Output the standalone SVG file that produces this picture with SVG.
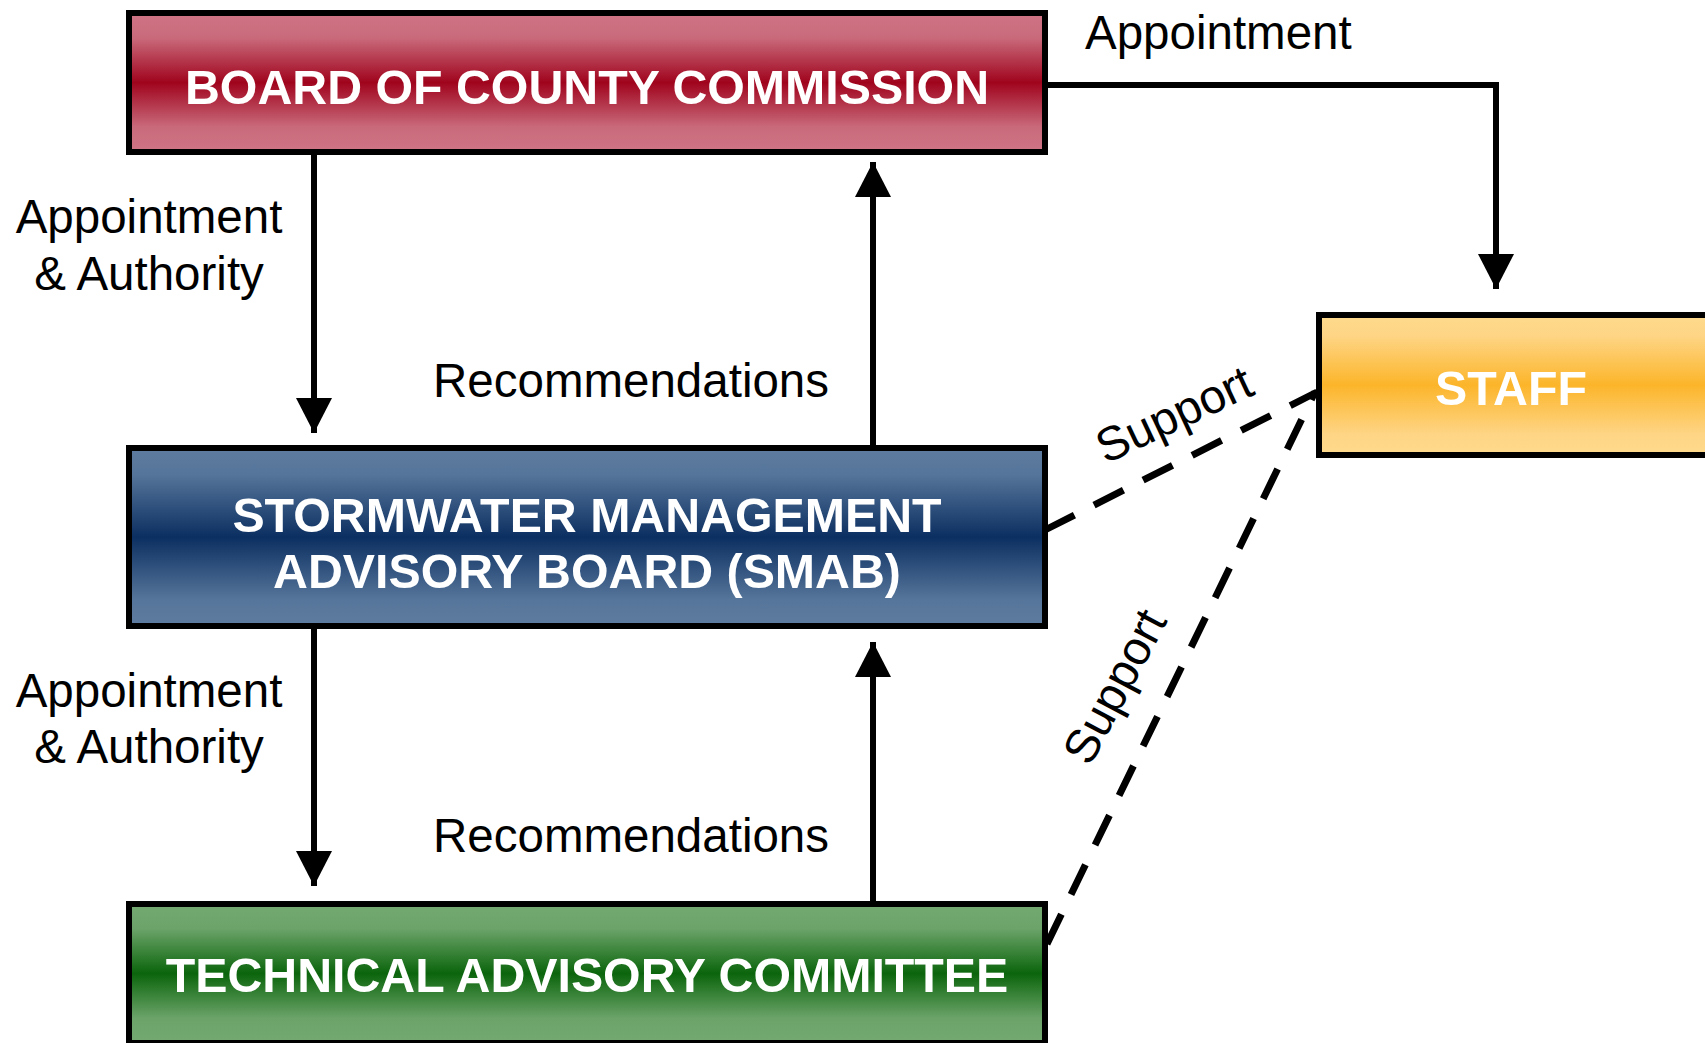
<svg xmlns="http://www.w3.org/2000/svg" width="1705" height="1043" viewBox="0 0 1705 1043">
<defs>
<linearGradient id="gRed" x1="0" y1="0" x2="0" y2="1">
<stop offset="0" stop-color="#cf7585"/><stop offset="0.18" stop-color="#c96a7b"/><stop offset="0.5" stop-color="#a0041d"/><stop offset="0.82" stop-color="#c96a7b"/><stop offset="1" stop-color="#cf7585"/>
</linearGradient>
<linearGradient id="gBlue" x1="0" y1="0" x2="0" y2="1">
<stop offset="0" stop-color="#5d7c9f"/><stop offset="0.15" stop-color="#56759a"/><stop offset="0.5" stop-color="#0b2f61"/><stop offset="0.85" stop-color="#56759a"/><stop offset="1" stop-color="#5d7c9f"/>
</linearGradient>
<linearGradient id="gGreen" x1="0" y1="0" x2="0" y2="1">
<stop offset="0" stop-color="#74aa72"/><stop offset="0.18" stop-color="#6ba369"/><stop offset="0.5" stop-color="#0b650c"/><stop offset="0.82" stop-color="#6ba369"/><stop offset="1" stop-color="#74aa72"/>
</linearGradient>
<linearGradient id="gOrange" x1="0" y1="0" x2="0" y2="1">
<stop offset="0" stop-color="#ffda8d"/><stop offset="0.15" stop-color="#fed585"/><stop offset="0.5" stop-color="#fcb52a"/><stop offset="0.85" stop-color="#fed585"/><stop offset="1" stop-color="#ffda8d"/>
</linearGradient>
<marker id="arr" markerUnits="userSpaceOnUse" markerWidth="36" markerHeight="36" viewBox="0 0 36 36" refX="35" refY="18" orient="auto">
<path d="M0,0 L35,18 L0,36 Z" fill="#000"/>
</marker>
<style>
.box{stroke:#000;stroke-width:6}
.bt{font-family:"Liberation Sans",Arial,sans-serif;font-weight:bold;font-size:48.3px;fill:#fff;text-anchor:middle}
.lbl{font-family:"Liberation Sans",Arial,sans-serif;font-size:47.5px;fill:#000}
.ln{stroke:#000;stroke-width:6;fill:none}
.dash{stroke:#000;stroke-width:7;fill:none;stroke-dasharray:33 22}
</style>
</defs>
<rect width="1705" height="1043" fill="#fff"/>
<g id="connectors">
<path class="ln" d="M1045,85 H1496 V289" marker-end="url(#arr)"/>
<path class="ln" d="M314,152 V433" marker-end="url(#arr)"/>
<path class="ln" d="M873,448 V162" marker-end="url(#arr)"/>
<path class="ln" d="M314,626 V886" marker-end="url(#arr)"/>
<path class="ln" d="M873,904 V642" marker-end="url(#arr)"/>
<path class="dash" d="M1045,530 L1317,392"/>
<path class="dash" d="M1047,944 L1315,392"/>
<text class="lbl" x="1085" y="49">Appointment</text>
<text class="lbl" x="149" y="233" text-anchor="middle">Appointment</text>
<text class="lbl" x="149" y="290" text-anchor="middle">&amp; Authority</text>
<text class="lbl" x="149" y="707" text-anchor="middle">Appointment</text>
<text class="lbl" x="149" y="763" text-anchor="middle">&amp; Authority</text>
<text class="lbl" x="433" y="397">Recommendations</text>
<text class="lbl" x="433" y="852">Recommendations</text>
<text class="lbl" text-anchor="middle" transform="translate(1181,429) rotate(-25)">Support</text>
<text class="lbl" text-anchor="middle" transform="translate(1129,694) rotate(-62)">Support</text>
</g>
<g id="board">
<rect class="box" x="129" y="13" width="916" height="139" fill="url(#gRed)"/>
<text class="bt" x="587" y="104">BOARD OF COUNTY COMMISSION</text>
</g>
<g id="smab">
<rect class="box" x="129" y="448" width="916" height="178" fill="url(#gBlue)"/>
<text class="bt" x="587" y="532">STORMWATER MANAGEMENT</text>
<text class="bt" x="587" y="588">ADVISORY BOARD (SMAB)</text>
</g>
<g id="tac">
<rect class="box" x="129" y="904" width="916" height="139" fill="url(#gGreen)"/>
<text class="bt" x="587" y="992">TECHNICAL ADVISORY COMMITTEE</text>
</g>
<g id="staff">
<rect class="box" x="1319" y="315" width="400" height="140" fill="url(#gOrange)"/>
<text class="bt" x="1511" y="405">STAFF</text>
</g>
</svg>
